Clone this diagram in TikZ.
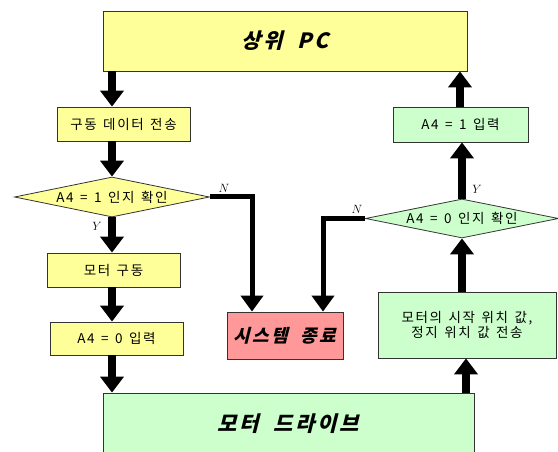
\documentclass[tikz,border=0pt]{standalone}
\usepackage{fontspec}
\setmainfont{Noto Sans CJK KR}
\newfontfamily\krn[LetterSpace=12,WordSpace=1.4]{Noto Sans CJK KR}
\newfontfamily\krbi[FakeSlant=0.25,LetterSpace=14,WordSpace=1.8]{Noto Sans CJK KR}
\usetikzlibrary{shapes.geometric,arrows.meta}
\definecolor{yel}{HTML}{FFFF99}
\definecolor{grn}{HTML}{CCFFCC}
\definecolor{pnk}{HTML}{FF9999}
\begin{document}
\begin{tikzpicture}[x=1pt,y=-1pt,
  box/.style={draw=black!80, line width=0.8pt, inner sep=0pt,
    font=\krn\fontsize{13.5}{15}\selectfont, align=center},
  bigbox/.style={box, font=\krbi\bfseries\fontsize{21}{24}\selectfont},
  dia/.style={box, shape=diamond, shape aspect=4.9},
  bigarrow/.style={line width=7.5pt, -{Triangle[width=23pt,length=16pt]}},
  nline/.style={line width=5pt, line join=miter, -{Triangle[width=22pt,length=16pt]}},
  lbl/.style={inner sep=0pt, font=\fontsize{13}{15}\selectfont}]
\useasboundingbox (0,0) rectangle (558,452);
\fill[white] (0,0) rectangle (558,452);
% nodes
\node[bigbox, fill=yel, minimum width=364pt, minimum height=60pt] (pc) at (285,41) {상위 PC};
\node[box, fill=yel, minimum width=133pt, minimum height=34pt] (send) at (123.5,124) {구동 데이터 전송};
\node[dia, fill=yel, minimum width=195pt, minimum height=40pt] (d1) at (112,197) {A4 = 1 인지 확인};
\node[box, fill=yel, minimum width=133pt, minimum height=34pt] (drive) at (113.5,270) {모터 구동};
\node[box, fill=yel, minimum width=133pt, minimum height=33pt] (a40) at (116.5,338.5) {A4 = 0 입력};
\node[bigbox, fill=grn, minimum width=371pt, minimum height=62pt] (md) at (288.5,424) {모터 드라이브};
\node[box, fill=pnk, minimum width=116pt, minimum height=47pt, font=\krbi\bfseries\fontsize{18}{20}\selectfont] (stop) at (285,335.5) {시스템 종료};
\node[box, fill=grn, minimum width=178pt, minimum height=66pt, font=\krn\fontsize{13.5}{15}\selectfont] (pos) at (467,325) {모터의 시작 위치 값,\\정지 위치 값 전송};
\node[dia, fill=grn, minimum width=193pt, minimum height=39pt] (d0) at (462,218.5) {A4 = 0 인지 확인};
\node[box, fill=grn, minimum width=135pt, minimum height=35pt] (a41) at (460.5,124.5) {A4 = 1 입력};
% labels
\node[lbl] (y1) at (97,226) {$Y$};
\node[lbl] (n1) at (224,188) {$N$};
\node[lbl] (n0) at (357,209) {$N$};
\node[lbl] (y0) at (477,189) {$Y$};
% columns
\coordinate (L) at (112,0);
\coordinate (R1) at (460,0);
\coordinate (R2) at (466,0);
% arrows
\draw[bigarrow] (pc.south -| L) -- (send.north -| L);
\draw[bigarrow] (send.south -| L) -- (d1.north);
\draw[bigarrow] (d1.south) -- (drive.north -| L);
\draw[bigarrow] (drive.south -| L) -- (a40.north -| L);
\draw[bigarrow] (a40.south -| L) -- (md.north -| L);
\draw[bigarrow] (md.north -| R2) -- (pos.south -| R2);
\draw[bigarrow] (pos.north -| d0.south) -- (d0.south);
\draw[bigarrow] (d0.north) -- (a41.south -| d0.north);
\draw[bigarrow] (a41.north -| R1) -- (pc.south -| R1);
\draw[nline] (d1.east) -| ([xshift=-33pt]stop.north);
\draw[nline] (d0.west) -| ([xshift=38pt]stop.north);
\end{tikzpicture}
\end{document}
